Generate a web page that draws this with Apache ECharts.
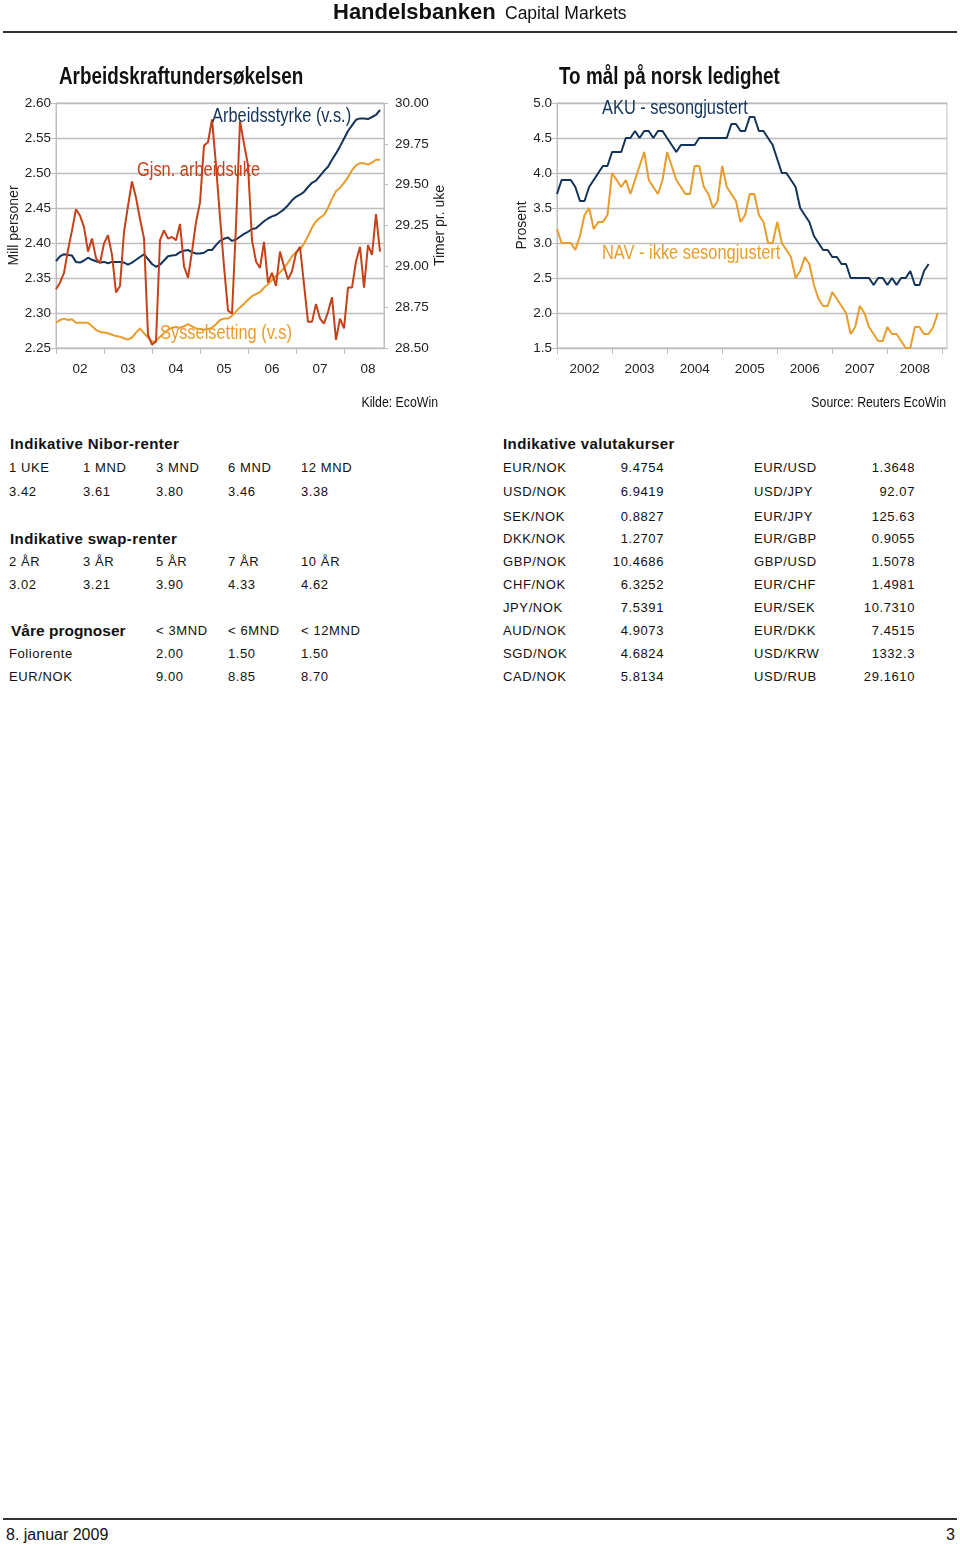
<!DOCTYPE html>
<html><head><meta charset="utf-8">
<script src="https://cdn.jsdelivr.net/npm/echarts@6/dist/echarts.min.js"></script>
<style>
html,body{margin:0;padding:0;background:#fff;}
body{width:960px;height:1546px;position:relative;overflow:hidden;font-family:"Liberation Sans",Arial,sans-serif;color:#111;}
#chart{position:absolute;left:0;top:0;width:960px;height:420px;}
.t{position:absolute;white-space:nowrap;height:20px;line-height:20px;}
.h{font-weight:bold;font-size:15px;letter-spacing:0.4px;}
.c{font-size:13px;letter-spacing:0.6px;}
.rule{position:absolute;left:3px;width:954px;background:#333;}
</style></head>
<body>
<div id="chart"></div>
<div id="page"></div>
<script>
// ---------- DATA ----------
const leftTitle = 'Arbeidskraftundersøkelsen';
const rightTitle = 'To mål på norsk ledighet';

// Left chart: monthly from Jan 2002
const arbeidsstyrke = [2.374,2.381,2.384,2.383,2.382,2.373,2.372,2.375,2.379,2.376,
 2.374,2.372,2.373,2.371,2.373,2.373,2.373,2.372,2.369,2.372,
 2.376,2.380,2.384,2.377,2.370,2.366,2.369,2.375,2.381,2.382,
 2.383,2.387,2.389,2.390,2.387,2.385,2.385,2.386,2.390,2.390,
 2.397,2.403,2.406,2.408,2.403,2.405,2.409,2.413,2.416,2.420,
 2.421,2.426,2.431,2.435,2.438,2.440,2.444,2.448,2.454,2.461,
 2.466,2.469,2.473,2.480,2.486,2.489,2.496,2.503,2.509,2.519,
 2.528,2.538,2.549,2.560,2.568,2.576,2.578,2.578,2.577,2.580,
 2.583,2.590];
const sysselsetting = [2.286,2.290,2.292,2.290,2.291,2.286,2.286,2.286,2.286,2.281,
 2.276,2.273,2.272,2.271,2.269,2.267,2.266,2.264,2.262,2.265,
 2.272,2.278,2.271,2.265,2.259,2.260,2.266,2.271,2.276,2.279,
 2.280,2.279,2.281,2.284,2.281,2.278,2.277,2.276,2.277,2.279,
 2.284,2.290,2.292,2.292,2.296,2.302,2.308,2.313,2.319,2.324,
 2.327,2.330,2.336,2.341,2.347,2.353,2.358,2.364,2.372,2.381,
 2.387,2.391,2.399,2.410,2.422,2.431,2.436,2.440,2.450,2.463,
 2.474,2.479,2.486,2.494,2.504,2.511,2.514,2.514,2.512,2.515,
 2.519,2.519];
const arbeidsuke = [28.86,28.90,28.96,29.10,29.22,29.35,29.31,29.24,29.09,29.17,
 29.05,29.02,29.14,29.19,29.07,28.84,28.88,29.21,29.37,29.52,
 29.42,29.29,29.17,28.58,28.52,28.54,29.16,29.22,29.17,29.18,
 29.16,29.26,29.00,28.93,29.09,29.27,29.39,29.74,29.76,29.90,
 29.62,29.30,29.00,28.73,28.71,29.25,29.89,29.75,29.62,29.16,
 29.03,28.99,29.15,28.90,28.96,28.88,29.09,29.00,28.92,28.97,
 29.08,29.12,28.89,28.66,28.66,28.77,28.68,28.65,28.72,28.81,
 28.55,28.68,28.62,28.87,28.87,29.03,29.12,28.87,29.13,29.07,
 29.32,29.09];

// Right chart: monthly from Jan 2002
const aku = [3.7,3.9,3.9,3.9,3.8,3.6,3.6,3.8,3.9,4.0,
 4.1,4.1,4.3,4.3,4.3,4.5,4.5,4.6,4.5,4.6,
 4.6,4.5,4.6,4.6,4.5,4.4,4.3,4.4,4.4,4.4,
 4.4,4.5,4.5,4.5,4.5,4.5,4.5,4.5,4.7,4.7,
 4.6,4.6,4.8,4.8,4.6,4.6,4.5,4.4,4.2,4.0,
 4.0,3.9,3.8,3.5,3.4,3.3,3.1,3.0,2.9,2.9,
 2.8,2.8,2.7,2.7,2.5,2.5,2.5,2.5,2.5,2.4,
 2.5,2.5,2.4,2.5,2.4,2.5,2.5,2.6,2.4,2.4,
 2.6,2.7];
const nav = [3.2,3.0,3.0,3.0,2.9,3.1,3.4,3.5,3.2,3.3,
 3.3,3.4,4.0,3.9,3.8,3.9,3.7,3.9,4.1,4.3,
 3.9,3.8,3.7,3.9,4.3,4.1,3.9,3.8,3.7,3.7,
 4.1,4.1,3.8,3.7,3.5,3.6,4.1,3.8,3.7,3.6,
 3.3,3.4,3.7,3.7,3.4,3.3,3.0,3.0,3.3,3.0,
 2.9,2.8,2.5,2.6,2.8,2.7,2.4,2.2,2.1,2.1,
 2.3,2.2,2.1,2.0,1.7,1.8,2.1,2.0,1.8,1.7,
 1.6,1.6,1.8,1.7,1.7,1.6,1.5,1.5,1.8,1.8,
 1.7,1.7,1.8,2.0];

// Category (month) axes
function months(y0, m0, y1, m1) {
  const out = [];
  for (let y = y0; y <= y1; y++) for (let m = 1; m <= 12; m++) {
    if (y === y0 && m < m0) continue;
    if (y === y1 && m > m1) break;
    out.push(y + '-' + (m < 10 ? '0' : '') + m);
  }
  return out;
}
const leftMonths = months(2002, 1, 2008, 11);
const rightMonths = months(2002, 1, 2009, 2);

// Tables
const niborHead = ['1 UKE','1 MND','3 MND','6 MND','12 MND'];
const niborVals = ['3.42','3.61','3.80','3.46','3.38'];
const swapHead = ['2 ÅR','3 ÅR','5 ÅR','7 ÅR','10 ÅR'];
const swapVals = ['3.02','3.21','3.90','4.33','4.62'];
const progHead = ['< 3MND','< 6MND','< 12MND'];
const progFolio = ['2.00','1.50','1.50'];
const progEurNok = ['9.00','8.85','8.70'];
const fxLeftNames = ['EUR/NOK','USD/NOK','SEK/NOK','DKK/NOK','GBP/NOK','CHF/NOK','JPY/NOK','AUD/NOK','SGD/NOK','CAD/NOK'];
const fxLeftVals = ['9.4754','6.9419','0.8827','1.2707','10.4686','6.3252','7.5391','4.9073','4.6824','5.8134'];
const fxRightNames = ['EUR/USD','USD/JPY','EUR/JPY','EUR/GBP','GBP/USD','EUR/CHF','EUR/SEK','EUR/DKK','USD/KRW','USD/RUB'];
const fxRightVals = ['1.3648','92.07','125.63','0.9055','1.5078','1.4981','10.7310','7.4515','1332.3','29.1610'];

// ---------- STYLE ----------
const NAVY = '#12335a', ORANGE = '#e89c2c', RED = '#c5411a';
const GRID = '#bdbdbd';
const REG = '"Liberation Sans",Arial,sans-serif';
const NARROW_X = 0.82; // horizontal squeeze to imitate a narrow face

const axisLbl = {color: '#222', fontFamily: REG, fontSize: 13.5};
function catAxis(gridIndex, data, fmt) {
  return {
    type: 'category', gridIndex, data, boundaryGap: false,
    axisLine: {show: true, lineStyle: {color: GRID, width: 1}},
    axisTick: {show: true, interval: (i) => i % 12 === 0, length: 6, lineStyle: {color: GRID}},
    axisLabel: Object.assign({interval: (i) => i % 12 === 6, formatter: fmt, margin: 14}, axisLbl),
    splitLine: {show: false}
  };
}
function valAxis(gridIndex, min, max, interval, digits, extra) {
  return Object.assign({
    type: 'value', gridIndex, min, max, interval,
    axisLine: {show: true, lineStyle: {color: GRID}},
    axisTick: {show: true, length: 5, lineStyle: {color: GRID}},
    axisLabel: Object.assign({formatter: (v) => v.toFixed(digits), margin: 5}, axisLbl),
    splitLine: {show: true, lineStyle: {color: GRID, width: 1.3}},
    nameLocation: 'middle', nameRotate: 90,
    nameTextStyle: {color: '#222', fontFamily: REG, fontSize: 14}
  }, extra || {});
}
function line(name, data, color, xi, yi) {
  return {name, type: 'line', data, xAxisIndex: xi, yAxisIndex: yi, symbol: 'none',
    lineStyle: {color, width: 2}, itemStyle: {color}, z: 3, silent: true, animation: false};
}
function txt(text, x, y, color, size, bold, align) {
  return {type: 'text', x, y, scaleX: NARROW_X, scaleY: 1, z: 10, silent: true,
    style: {text, fill: color, font: (bold ? 'bold ' : '') + size + 'px ' + REG,
      textAlign: align || 'left', textVerticalAlign: 'middle'}};
}

const chart = echarts.init(document.getElementById('chart'), null, {renderer: 'canvas'});
chart.setOption({
  animation: false,
  grid: [
    {left: 56, top: 103, width: 328, height: 245, show: true, borderColor: GRID, borderWidth: 1},
    {left: 557, top: 103, width: 390, height: 245, show: true, borderColor: GRID, borderWidth: 1}
  ],
  xAxis: [
    catAxis(0, leftMonths, (v) => v.slice(2, 4)),
    catAxis(1, rightMonths, (v) => v.slice(0, 4))
  ],
  yAxis: [
    valAxis(0, 2.25, 2.60, 0.05, 2, {name: 'Mill personer', nameGap: 31}),
    valAxis(0, 28.5, 30.0, 0.25, 2, {position: 'right', name: 'Timer pr. uke', nameGap: 44,
      splitLine: {show: false}, axisTick: {show: true, length: 4, lineStyle: {color: GRID}},
      axisLabel: Object.assign({formatter: (v) => v.toFixed(2), margin: 11}, axisLbl)}),
    valAxis(1, 1.5, 5.0, 0.5, 1, {name: 'Prosent', nameGap: 27})
  ],
  series: [
    line('Sysselsetting (v.s)', sysselsetting, ORANGE, 0, 0),
    line('Arbeidsstyrke (v.s.)', arbeidsstyrke, NAVY, 0, 0),
    line('Gjsn. arbeidsuke', arbeidsuke, RED, 0, 1),
    line('NAV - ikke sesongjustert', nav, ORANGE, 1, 2),
    line('AKU - sesongjustert', aku, NAVY, 1, 2)
  ],
  graphic: [
    txt(leftTitle, 59, 78, '#111', 23, true),
    txt(rightTitle, 559, 78, '#111', 23, true),
    txt('Arbeidsstyrke (v.s.)', 212, 116, NAVY, 20),
    txt('Gjsn. arbeidsuke', 137, 170, RED, 20),
    txt('Sysselsetting (v.s)', 160, 333, ORANGE, 20),
    txt('AKU - sesongjustert', 602, 108, NAVY, 20),
    txt('NAV - ikke sesongjustert', 602, 253, ORANGE, 20),
    txt('Kilde: EcoWin', 438, 403, '#111', 15, false, 'right'),
    txt('Source: Reuters EcoWin', 946, 403, '#111', 15, false, 'right')
  ]
});

// ---------- PAGE TEXT ----------
const page = document.getElementById('page');
function put(text, x, yc, cls, opts) {
  const d = document.createElement('div');
  d.className = 't ' + (cls || '');
  d.textContent = text;
  d.style.top = (yc - 10) + 'px';
  if (opts && opts.right) d.style.right = (960 - x) + 'px'; else d.style.left = x + 'px';
  if (opts && opts.size) d.style.fontSize = opts.size + 'px';
  if (opts && opts.bold) d.style.fontWeight = 'bold';
  if (opts && opts.ls !== undefined) d.style.letterSpacing = opts.ls + 'px';
  page.appendChild(d);
}
function rule(y, h) {
  const d = document.createElement('div');
  d.className = 'rule'; d.style.top = y + 'px'; d.style.height = h + 'px';
  page.appendChild(d);
}
// header
put('Handelsbanken', 333, 12, '', {size: 22, bold: true});
put('Capital Markets', 505, 13, '', {size: 17.5});
rule(31, 2);
// footer
rule(1518, 1.5);
put('8. januar 2009', 6, 1535, '', {size: 16});
put('3', 955, 1535, '', {size: 16, right: true});

// left tables
const colX = [9, 83, 156, 228, 301];
put('Indikative Nibor-renter', 10, 444, 'h');
niborHead.forEach((s, i) => put(s, colX[i], 468, 'c'));
niborVals.forEach((s, i) => put(s, colX[i], 492, 'c'));
put('Indikative swap-renter', 10, 539, 'h');
swapHead.forEach((s, i) => put(s, colX[i], 562, 'c'));
swapVals.forEach((s, i) => put(s, colX[i], 585, 'c'));
put('Våre prognoser', 11, 631, 'h', {size: 15.5, ls: 0});
progHead.forEach((s, i) => put(s, colX[i + 2], 631, 'c'));
put('Foliorente', 9, 654, 'c');
progFolio.forEach((s, i) => put(s, colX[i + 2], 654, 'c'));
put('EUR/NOK', 9, 677, 'c');
progEurNok.forEach((s, i) => put(s, colX[i + 2], 677, 'c'));

// right table
put('Indikative valutakurser', 503, 444, 'h');
const rowY = [468, 492, 517, 539, 562, 585, 608, 631, 654, 677];
fxLeftNames.forEach((s, i) => put(s, 503, rowY[i], 'c'));
fxLeftVals.forEach((s, i) => put(s, 664, rowY[i], 'c', {right: true}));
fxRightNames.forEach((s, i) => put(s, 754, rowY[i], 'c'));
fxRightVals.forEach((s, i) => put(s, 915, rowY[i], 'c', {right: true}));
</script>
</body></html>
